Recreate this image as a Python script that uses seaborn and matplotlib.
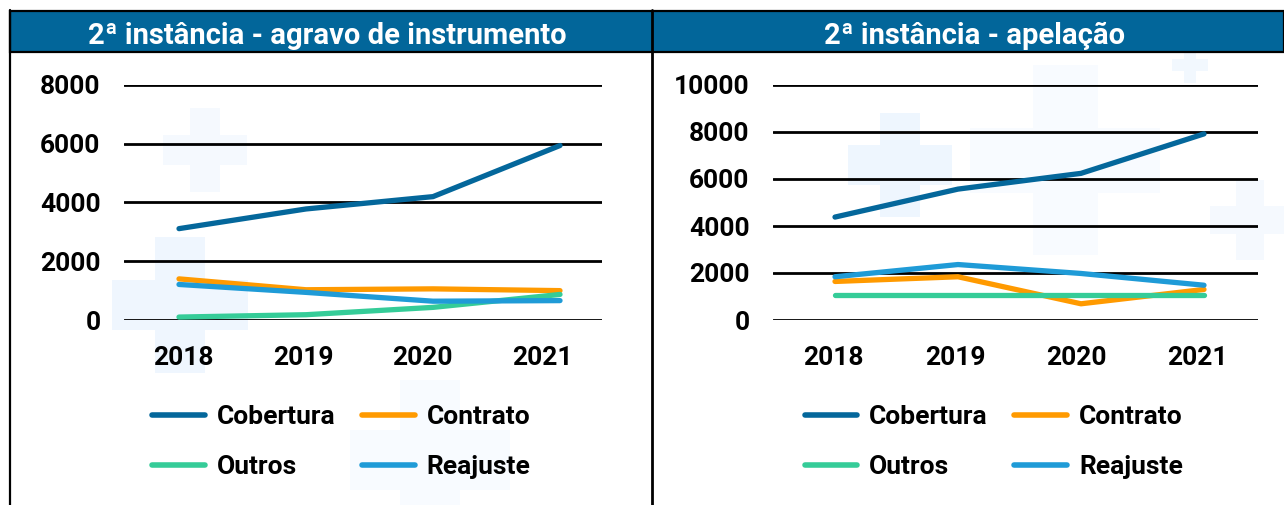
import numpy as np
import pandas as pd
import matplotlib.pyplot as plt
import seaborn as sns
from matplotlib.patches import Rectangle
from matplotlib.lines import Line2D

# ── Data ─────────────────────────────────────────────────────
anos = ['2018', '2019', '2020', '2021']
series = ['Cobertura', 'Contrato', 'Outros', 'Reajuste']

agravo_cobertura = [3110, 3780, 4200, 5940]
agravo_contrato = [1400, 1030, 1060, 1000]
agravo_outros = [100, 180, 430, 870]
agravo_reajuste = [1210, 940, 640, 660]

apel_cobertura = [4380, 5570, 6240, 7920]
apel_contrato = [1640, 1840, 690, 1300]
apel_outros = [1080, 1080, 1080, 1080]
apel_reajuste = [1840, 2360, 1980, 1480]

agravo_ticks = [0, 2000, 4000, 6000, 8000]
apel_ticks = [0, 2000, 4000, 6000, 8000, 10000]

PALETTE = {'Cobertura': '#04679B', 'Contrato': '#FF9A00',
           'Outros': '#35CC98', 'Reajuste': '#1F9BD7'}
BAR = '#02669A'

def long_df(vals):
    rows = []
    for s, v in zip(series, vals):
        for a, y in zip(anos, v):
            rows.append({'Ano': a, 'Série': s, 'Valor': y})
    return pd.DataFrame(rows)

df_agravo = long_df([agravo_cobertura, agravo_contrato, agravo_outros, agravo_reajuste])
df_apel = long_df([apel_cobertura, apel_contrato, apel_outros, apel_reajuste])

# ── Figure ───────────────────────────────────────────────────
sns.set_style('white')
plt.rcParams['font.family'] = ['Roboto', 'DejaVu Sans']
plt.rcParams['font.weight'] = 'bold'
plt.rcParams['text.color'] = 'black'

W, H = 1284, 505
fig = plt.figure(figsize=(W / 100, H / 100), dpi=100)

def fx(x):
    return x / W

def fy(y):
    return 1 - y / H

# faint decorative crosses behind the charts
def cross(cx, cy, arm, thick, color):
    fig.add_artist(Rectangle((fx(cx - thick / 2), fy(cy + arm)), thick / W, 2 * arm / H,
                             facecolor=color, edgecolor='none', zorder=0))
    fig.add_artist(Rectangle((fx(cx - arm), fy(cy + thick / 2)), 2 * arm / W, thick / H,
                             facecolor=color, edgecolor='none', zorder=0))

cross(180, 305, 68, 50, '#EFF6FE')
cross(205, 150, 42, 30, '#F5F9FE')
cross(900, 165, 52, 40, '#EEF6FE')
cross(1065, 160, 95, 65, '#F8FBFF')
cross(1250, 220, 40, 28, '#F5F9FE')
cross(430, 460, 80, 60, '#F8FBFF')
cross(1190, 65, 18, 12, '#F2F8FE')

# panel frame + title bars
fig.add_artist(Rectangle((fx(10), fy(52)), (W - 10) / W, 41 / H,
                         facecolor=BAR, edgecolor='black', lw=1.6, zorder=2))
fig.add_artist(Line2D([fx(10), fx(10)], [fy(10), 0], color='black', lw=1.6, zorder=3))
fig.add_artist(Line2D([fx(652), fx(652)], [fy(10), 0], color='black', lw=2, zorder=3))
fig.text(fx(327), fy(36), '2ª instância - agravo de instrumento', color='white',
         fontsize=21, fontweight='bold', ha='center', va='center', zorder=4)
fig.text(fx(975), fy(36), '2ª instância - apelação', color='white',
         fontsize=21, fontweight='bold', ha='center', va='center', zorder=4)

panels = [
    (df_agravo, agravo_ticks, (124, 602), (179, 560)),
    (df_apel, apel_ticks, (773, 1258), (835, 1204)),
]

# legend fills column by column: Cobertura/Outros | Contrato/Reajuste
leg_order = ['Cobertura', 'Outros', 'Contrato', 'Reajuste']

for df, yticks, (ax0, ax1), (l0, l1) in panels:
    ax = fig.add_axes([fx(ax0), fy(320), (ax1 - ax0) / W, 235 / H])
    ax.set_facecolor('none')
    sns.lineplot(data=df, x='Ano', y='Valor', hue='Série', palette=PALETTE,
                 linewidth=3.8, ax=ax, sort=False, legend=False)
    for ln in ax.get_lines():
        ln.set_solid_capstyle('round')
        ln.set_clip_on(False)
        ln.set_zorder(3)

    step = (l1 - l0) / 3
    ax.set_xlim(-(l0 - ax0) / step, 3 + (ax1 - l1) / step)
    ax.set_ylim(yticks[0], yticks[-1])
    ax.set_yticks(yticks)
    # category labels sit at the centres of four equal bins
    ax.set_xticks(np.linspace(ax.get_xlim()[0], ax.get_xlim()[1], 9)[1::2])
    ax.set_xticklabels(anos)
    ax.tick_params(axis='both', length=0, labelsize=19, labelcolor='black')
    ax.tick_params(axis='y', pad=17)
    ax.tick_params(axis='x', pad=19)
    for t in ax.get_xticklabels() + ax.get_yticklabels():
        t.set_fontweight('bold')
    ax.grid(axis='y', color='black', linewidth=2)
    ax.set_axisbelow(True)
    sns.despine(ax=ax, left=True, bottom=True)
    ax.set_xlabel('')
    ax.set_ylabel('')

    handles = [Line2D([], [], color=PALETTE[s], lw=4, solid_capstyle='round') for s in leg_order]
    leg = ax.legend(handles, leg_order, loc='upper center', ncol=2, frameon=False,
                    bbox_to_anchor=(0.455, -0.305), borderpad=0,
                    prop={'size': 19, 'weight': 'bold'}, labelcolor='black',
                    handlelength=2.0, handletextpad=0.45, columnspacing=1.0,
                    labelspacing=1.0)

fig.savefig('out.png', dpi=100, facecolor='white')
